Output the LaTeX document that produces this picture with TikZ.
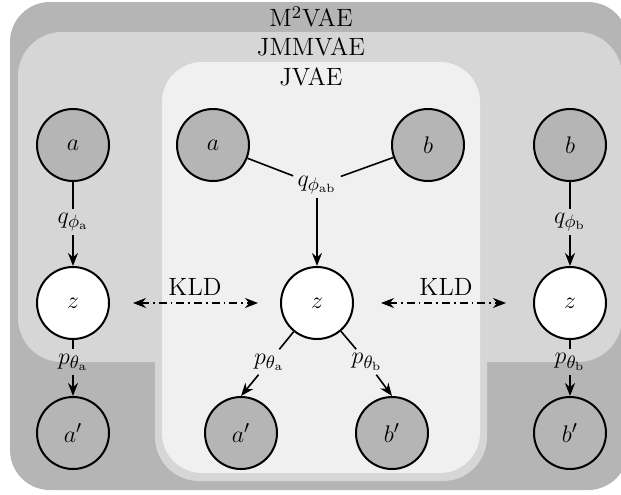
\documentclass[tikz,border=0pt]{standalone}
\usetikzlibrary{arrows.meta}
\begin{document}
\begin{tikzpicture}[x=0.5pt,y=-0.5pt,
  txt/.style={font=\fontsize{12.5}{15}\selectfont},
  var/.style={circle,draw,line width=1pt,minimum size=36pt,inner sep=0pt,txt},
  obs/.style={var,fill=black!29},
  lat/.style={var,fill=white},
  lbl/.style={inner sep=2pt,txt},
  conn/.style={line width=0.8pt},
  arr/.style={conn,-{Stealth[length=6.5pt,width=5pt]}},
  kld/.style={line width=0.8pt,dash pattern=on 4pt off 2pt on 0.8pt off 2pt,
    {Stealth[length=6.5pt,width=5pt]}-{Stealth[length=6.5pt,width=5pt]}},
]
\useasboundingbox (0,0) rectangle (621,494);
% regions
\fill[black!29, rounded corners=20pt] (10,2) rectangle (628,490);
\fill[black!16, rounded corners=22pt] (18,32) rectangle (622,362);
\fill[black!16, rounded corners=22pt] (155,55) rectangle (487,481);
\fill[black!6, rounded corners=20pt] (162,62) rectangle (480,473);
\node[lbl] (t1) at (311,17) {M$^2$VAE};
\node[lbl] (t2) at (311,47) {JMMVAE};
\node[lbl] (t3) at (311,77) {JVAE};
% left column
\node[obs] (la) at (73,145) {$a$};
\node[lat] (lz) at (73,303) {$z$};
\node[obs] (lap) at (73,433) {$a'$};
\node[lbl] (lq) at (73,222) {$q_{\phi_{\mathrm{a}}}$};
\node[lbl] (lp) at (73,362) {$p_{\theta_{\mathrm{a}}}$};
\draw[conn] (la) -- (lq);
\draw[arr] (lq) -- (lz);
\draw[conn] (lz) -- (lp);
\draw[arr] (lp) -- (lap);
% centre
\node[obs] (ca) at (213,145) {$a$};
\node[obs] (cb) at (428,145) {$b$};
\node[lbl] (cq) at (317,185) {$q_{\phi_{\mathrm{ab}}}$};
\node[lat] (cz) at (317,303) {$z$};
\node[obs] (cap) at (241,433) {$a'$};
\node[obs] (cbp) at (392,433) {$b'$};
\node[lbl] (cpa) at (269,362) {$p_{\theta_{\mathrm{a}}}$};
\node[lbl] (cpb) at (367,362) {$p_{\theta_{\mathrm{b}}}$};
\draw[conn] (ca) -- (cq);
\draw[conn] (cb) -- (cq);
\draw[arr] (cq) -- (cz);
\draw[conn] (cz) -- (cpa);
\draw[arr] (cpa) -- (cap.north);
\draw[conn] (cz) -- (cpb);
\draw[arr] (cpb) -- (cbp.north);
% right column
\node[obs] (rb) at (570,145) {$b$};
\node[lat] (rz) at (570,303) {$z$};
\node[obs] (rbp) at (570,433) {$b'$};
\node[lbl] (rq) at (570,222) {$q_{\phi_{\mathrm{b}}}$};
\node[lbl] (rp) at (570,362) {$p_{\theta_{\mathrm{b}}}$};
\draw[conn] (rb) -- (rq);
\draw[arr] (rq) -- (rz);
\draw[conn] (rz) -- (rp);
\draw[arr] (rp) -- (rbp);
% KLD
\node[lbl] (k1) at (195,287) {KLD};
\node[lbl] (k2) at (446,287) {KLD};
\draw[kld, shorten <=11.5pt, shorten >=11pt] (lz) -- (cz);
\draw[kld, shorten <=13.5pt, shorten >=13.5pt] (cz) -- (rz);
\end{tikzpicture}
\end{document}
